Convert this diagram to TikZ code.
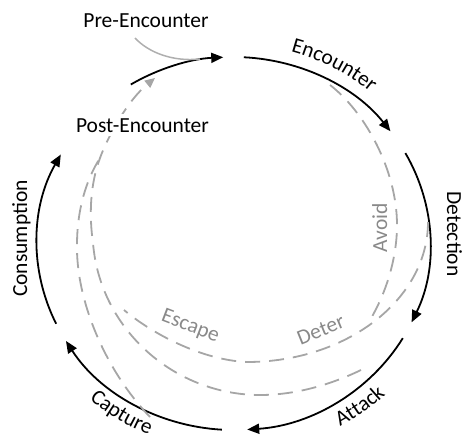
\documentclass[tikz,border=0pt]{standalone}
\usepackage{fontspec}
\setmainfont{Carlito}
\usetikzlibrary{arrows.meta,decorations.text}
\definecolor{dashgray}{RGB}{166,166,166}
\definecolor{labelgray}{RGB}{137,137,137}
\definecolor{pregray}{RGB}{175,175,175}
\newcommand\lfont{\fontsize{21.5}{26}\selectfont}
\tikzset{
  stage/.style={line width=1.8pt, -{Triangle[length=12pt,width=10pt]}},
  ret/.style={dashgray, line width=1.8pt, dash pattern=on 15pt off 9pt},
  lab/.style={font=\lfont, inner sep=0pt, anchor=base},
  deflab/.style={lab, labelgray},
  arclab/.style={decorate, decoration={text along path, text align=center, text={|\lfont|#1}}},
}
\begin{document}
\begin{tikzpicture}[x=1pt,y=1pt]
\useasboundingbox (0,0) rectangle (462,440);
\coordinate (C) at (233.5,196.5);
% the cycle
\foreach \a/\b in {87/37, 29/-25, -30.5/-86, -93.4/-148.5, -154.5/-208.5, 121.5/93}
  \draw[stage] (C) ++(\a:196.5pt and 186.5pt) arc[start angle=\a, end angle=\b, x radius=196.5pt, y radius=186.5pt];
% pre-encounter entry
\coordinate (pre-s) at (135,402);
\coordinate (pre-e) at (200,381);
\draw[pregray, line width=1.5pt] (pre-s) .. controls (148,388) and (172,378) .. (pre-e);
% ways back
\coordinate (avoid-s) at (330,355);
\coordinate (avoid-e) at (370,120);
\coordinate (deter-s) at (428,218);
\coordinate (deter-e) at (124,130);
\coordinate (esc-s) at (361,70);
\coordinate (capt-s) at (150,23);
\coordinate (merge) at (100,282);
\coordinate (back) at (155,362);
\draw[ret] (avoid-s) .. controls (365,328) and (397,270) .. (397,215) .. controls (397,180) and (385,145) .. (avoid-e);
\draw[ret] (deter-s) .. controls (428,141) and (347,78) .. (247,78) .. controls (200,80) and (150,108) .. (deter-e);
\draw[ret] (capt-s) .. controls (105,70) and (76,140) .. (77,195) .. controls (77,230) and (86,260) .. (merge);
\draw[ret, -{Triangle[length=10pt,width=9pt]}] (esc-s) .. controls (330,55) and (295,45) .. (260,45)
  .. controls (175,45) and (100,110) .. (93,197) .. controls (89,225) and (90,255) .. (merge)
  .. controls (108,304) and (128,340) .. (back);
% labels
\node[lab] (pre) at (146,412) {Pre-Encounter};
\node[lab, fill=white, inner sep=4pt] (post) at (142.5,308) {Post-Encounter};
\path[arclab=Encounter] (C) ++(86.5:209.5pt and 199.5pt) arc[start angle=86.5, end angle=36.5, x radius=209.5pt, y radius=199.5pt];
\path[arclab=Attack] (C) ++(-80.3:219.7pt and 209.7pt) arc[start angle=-80.3, end angle=-26.3, x radius=219.7pt, y radius=209.7pt];
\path[arclab=Capture] (C) ++(-152.4:217.8pt and 207.8pt) arc[start angle=-152.4, end angle=-92.4, x radius=217.8pt, y radius=207.8pt];
\node[lab, rotate=-90] (det) at (447,206) {Detection};
\node[lab, rotate=90] (cons) at (27,201.5) {Consumption};
\node[deflab, rotate=90] (avoid) at (387,212) {Avoid};
\node[deflab, rotate=22] (deter) at (323.4,104) {Deter};
\node[deflab, rotate=-21] (escape) at (188.4,108.8) {Escape};
\end{tikzpicture}
\end{document}
